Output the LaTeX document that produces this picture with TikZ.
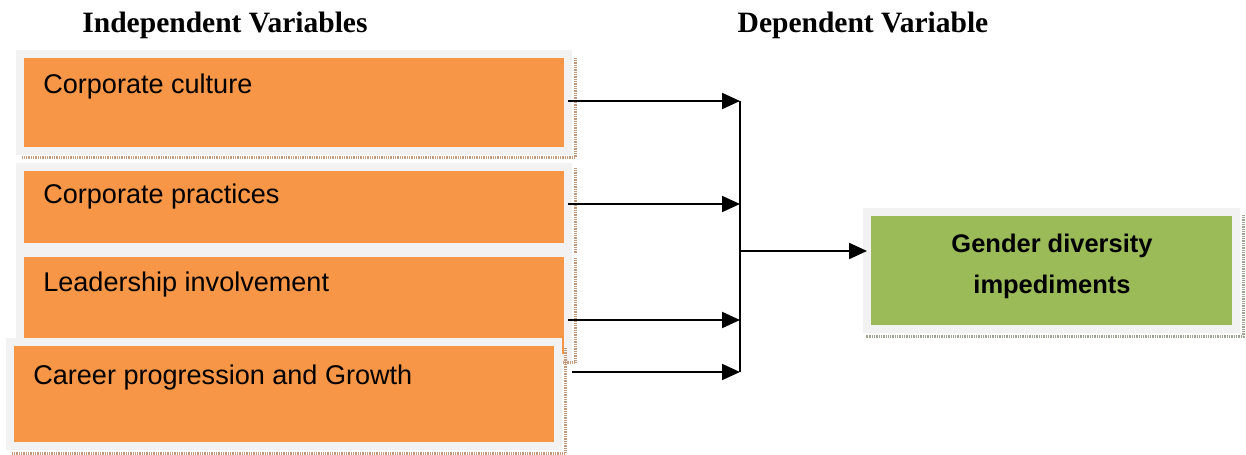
\documentclass[tikz,border=0pt]{standalone}
\usepackage{fontspec}
\setmainfont{Liberation Serif}
\setsansfont{Liberation Sans}
\usetikzlibrary{arrows.meta,positioning,calc}
\definecolor{boxorange}{HTML}{F79646}
\definecolor{boxgreen}{HTML}{9BBB59}
\definecolor{framegrey}{HTML}{F2F2F2}
\definecolor{shadeorange}{HTML}{C39A7C}
\definecolor{shadegreen}{HTML}{9EA692}

\begin{document}
\begin{tikzpicture}[x=0.02cm,y=-0.02cm,
  varbox/.style={rectangle,draw=framegrey,line width=0.16cm,fill=boxorange,
    inner sep=0pt,outer sep=0pt,minimum width=10.96cm},
  dvbox/.style={varbox,fill=boxgreen,minimum width=7.38cm,minimum height=2.34cm},
  vartext/.style={anchor=base west,inner sep=0pt,font=\sffamily\fontsize{15.4}{18}\selectfont},
  dvtext/.style={align=center,font=\sffamily\bfseries\fontsize{14.5}{23.4}\selectfont},
  head/.style={font=\bfseries\fontsize{16.8}{19}\selectfont},
  shadowline/.style={line width=0.06cm,dash pattern=on 0.5pt off 0.5pt},
  flow/.style={line width=0.04cm,-{Triangle[length=0.36cm,width=0.32cm]}},
  trunk/.style={line width=0.04cm}]
  \useasboundingbox (0,0) rectangle (1246,455);
  % headings
  \node[head] (ivhead) at (225,25) {Independent Variables};
  \node[head] (dvhead) at (863,25) {Dependent Variable};
  % corporate culture
  \node[varbox,minimum height=1.94cm] (cult) at (294,102.5) {};
  \draw[shadowline,shadeorange] (575,58) -- (575,158) -- (22,158);
  \node[vartext] (cultx) at (43,94) {Corporate culture};
  % corporate practices
  \node[varbox,minimum height=1.6cm] (prac) at (294,207) {};
  \draw[shadowline,shadeorange] (575,168) -- (575,253);
  \node[vartext] (pracx) at (43,204) {Corporate practices};
  % leadership involvement
  \node[varbox,minimum height=2.1cm] (lead) at (294,305.5) {};
  \draw[shadowline,shadeorange] (575,258) -- (575,363) -- (22,363);
  \node[vartext] (leadx) at (43,292) {Leadership involvement};
  % career progression
  \node[varbox,minimum height=2.08cm] (career) at (284,394) {};
  \draw[shadowline,shadeorange] (565,348) -- (565,453) -- (12,453);
  \node[vartext] (careerx) at (33,384) {Career progression and Growth};
  % gender diversity impediments
  \node[dvbox] (dv) at (1051.5,270.5) {};
  \draw[shadowline,shadegreen] (1243,215) -- (1243,337) -- (866,337);
  \node[dvtext] (dvx) at (1052,266) {Gender diversity\\impediments};
  % connectors
  \coordinate (j1) at (740,101);
  \coordinate (j2) at (740,204);
  \coordinate (j3) at (740,320);
  \coordinate (j4) at (740,372);
  \coordinate (jm) at (740,251);
  \draw[flow] (cult.east |- j1) -- (j1);
  \draw[flow] (cult.east |- j2) -- (j2);
  \draw[flow] (cult.east |- j3) -- (j3);
  \draw[flow] ($(cult.east |- j4)+(4,0)$) -- (j4);
  \draw[trunk] (j1) -- (j4);
  \draw[flow] (jm) -- (jm -| dv.west);
\end{tikzpicture}
\end{document}
